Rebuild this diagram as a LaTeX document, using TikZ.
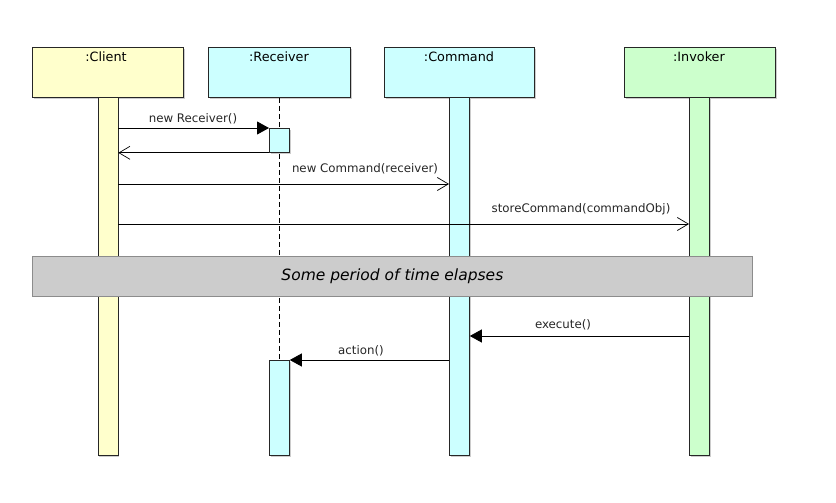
\documentclass[tikz,border=0pt]{standalone}
\usepackage{fontspec}
\setmainfont{DejaVu Sans}
\usetikzlibrary{arrows.meta,shadows}
\definecolor{cyel}{HTML}{FFFFCC}
\definecolor{ccyan}{HTML}{CCFFFF}
\definecolor{cgreen}{HTML}{CCFFCC}
\definecolor{cgray}{HTML}{CCCCCC}
\tikzset{
  objbox/.style={draw=black!85, line width=0.8pt, inner sep=0pt, anchor=north west,
    minimum width=#1, minimum height=50pt, drop shadow={shadow xshift=1.5pt, shadow yshift=-1.5pt, fill=black!40}},
  actbar/.style={draw=black!85, line width=0.8pt, inner sep=0pt, anchor=north west,
    minimum width=20pt, minimum height=#1, drop shadow={shadow xshift=1.5pt, shadow yshift=-1.5pt, fill=black!40}},
  title/.style={font=\fontsize{12.8}{14}\selectfont, anchor=center},
  lbl/.style={font=\fontsize{11.8}{13}\selectfont, anchor=center, text=black!85},
  syncmsg/.style={line width=0.8pt, -{Triangle[length=12pt,width=13pt]}},
  asyncmsg/.style={line width=0.8pt, -{Straight Barb[length=11pt,width=13pt,line width=0.7pt]}},
  lifeline/.style={line width=0.8pt, dash pattern=on 5pt off 3pt},
}
\begin{document}
\begin{tikzpicture}[x=1pt,y=-1pt]
\useasboundingbox (0,0) rectangle (836,503);
% object boxes
\node[objbox=151pt, fill=cyel] (client) at (32,47) {};
\node[objbox=142pt, fill=ccyan] (recv) at (208,47) {};
\node[objbox=150pt, fill=ccyan] (cmd) at (384,47) {};
\node[objbox=151pt, fill=cgreen] (inv) at (624,47) {};
\node[title] (tclient) at (106,57) {:Client};
\node[title] (trecv) at (279,57) {:Receiver};
\node[title] (tcmd) at (459,57) {:Command};
\node[title] (tinv) at (699,57) {:Invoker};
% activation bars
\node[actbar=358pt, fill=cyel] (cbar) at (97.5,97) {};
\node[actbar=358pt, fill=ccyan] (mbar) at (449,97) {};
\node[actbar=358pt, fill=cgreen] (ibar) at (689,97) {};
\coordinate (rtop) at (recv.south);
\node[actbar=95pt, fill=ccyan] (ract2) at (269,360) {};
\draw[lifeline] (rtop) -- (ract2.north);
\node[actbar=24pt, fill=ccyan] (ract1) at (269,128) {};
% messages
\draw[syncmsg] (cbar.east |- ract1.north west) -- (ract1.north west);
\node[lbl] (l1) at (193,119) {new Receiver()};
\draw[asyncmsg] (ract1.south west) -- (cbar.east |- ract1.south west);
\coordinate (y3) at (0,184);
\draw[asyncmsg] (cbar.east |- y3) -- (mbar.west |- y3);
\node[lbl] (l3) at (365,169) {new Command(receiver)};
\coordinate (y4) at (0,224);
\draw[asyncmsg] (cbar.east |- y4) -- (ibar.west |- y4);
\node[lbl] (l4) at (581,209) {storeCommand(commandObj)};
% time gap
\node[draw=black!45, fill=cgray, line width=0.8pt, inner sep=0pt, anchor=north west,
  minimum width=720pt, minimum height=40pt] (gap) at (32,256) {};
\node[font=\fontsize{15.5}{17}\selectfont\itshape, anchor=center] (tgap) at (gap.center) {Some period of time elapses};
\coordinate (y5) at (0,336);
\draw[syncmsg] (ibar.west |- y5) -- (mbar.east |- y5);
\node[lbl] (l5) at (563,325) {execute()};
\draw[syncmsg] (mbar.west |- ract2.north east) -- (ract2.north east);
\node[lbl] (l6) at (361,351) {action()};
\end{tikzpicture}
\end{document}
